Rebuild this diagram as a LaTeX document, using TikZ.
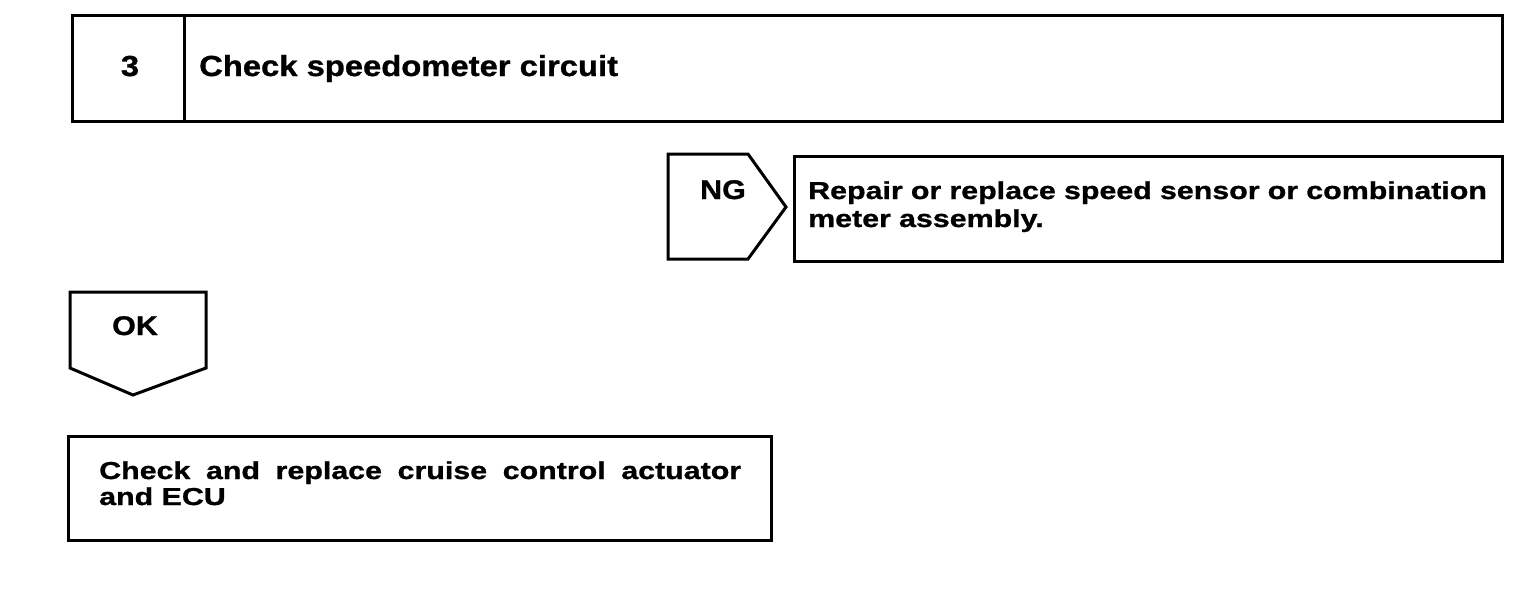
\documentclass[tikz,border=0pt]{standalone}
\usepackage{fontspec}
\setmainfont{Liberation Sans}
\newfontfamily\headfont[FakeStretch=1.13,BoldFeatures={FakeBold=1}]{Liberation Sans}
\newfontfamily\bodyfont[FakeStretch=1.24,BoldFeatures={FakeBold=1}]{Liberation Sans}
\usepackage{tikz}
\usetikzlibrary{positioning}

\begin{document}
\begin{tikzpicture}[x=1pt,y=-1pt,
    frame/.style={draw=black,line width=3pt,line join=miter},
    headtext/.style={inner sep=0pt,font=\headfont\bfseries\fontsize{29}{34}\selectfont},
    tagtext/.style={inner sep=0pt,font=\headfont\bfseries\fontsize{27}{32}\selectfont},
    bodytext/.style={inner sep=0pt,align=left,font=\bodyfont\bfseries\fontsize{24.5}{28}\selectfont}]
\useasboundingbox (0,0) rectangle (1536,608);
\begin{scope}

    \draw[frame] (72,15) rectangle (1502,121);
    \draw[frame] (184,15) -- (184,121);
    \node[headtext,anchor=base] (stepnum) at (130,76) {3};
    \node[headtext,anchor=base west] (stepname) at (199,76) {Check speedometer circuit};

    \draw[frame] (668,154) -- (748,154) -- (786,207) -- (748,259) -- (668,259) -- cycle;
    \node[tagtext,anchor=base] (ngtag) at (723,199) {NG};
    \draw[frame] (794,156) rectangle (1502,261);
    \node[bodytext,anchor=base west,text width=690pt] (ngaction) at (808,199)
        {Repair or replace speed sensor or combination\\meter assembly.};

    \draw[frame] (70,292) -- (206,292) -- (206,368) -- (133,395) -- (70,368) -- cycle;
    \node[tagtext,anchor=base] (oktag) at (135,335) {OK};
    \draw[frame] (68,436) rectangle (771,540);
    \node[bodytext,anchor=base west,text width=642pt,align=justify,
        font=\bodyfont\bfseries\fontsize{24.5}{26}\selectfont] (okaction) at (99,479)
        {Check and replace cruise control actuator and ECU};

\end{scope}
\end{tikzpicture}
\end{document}
